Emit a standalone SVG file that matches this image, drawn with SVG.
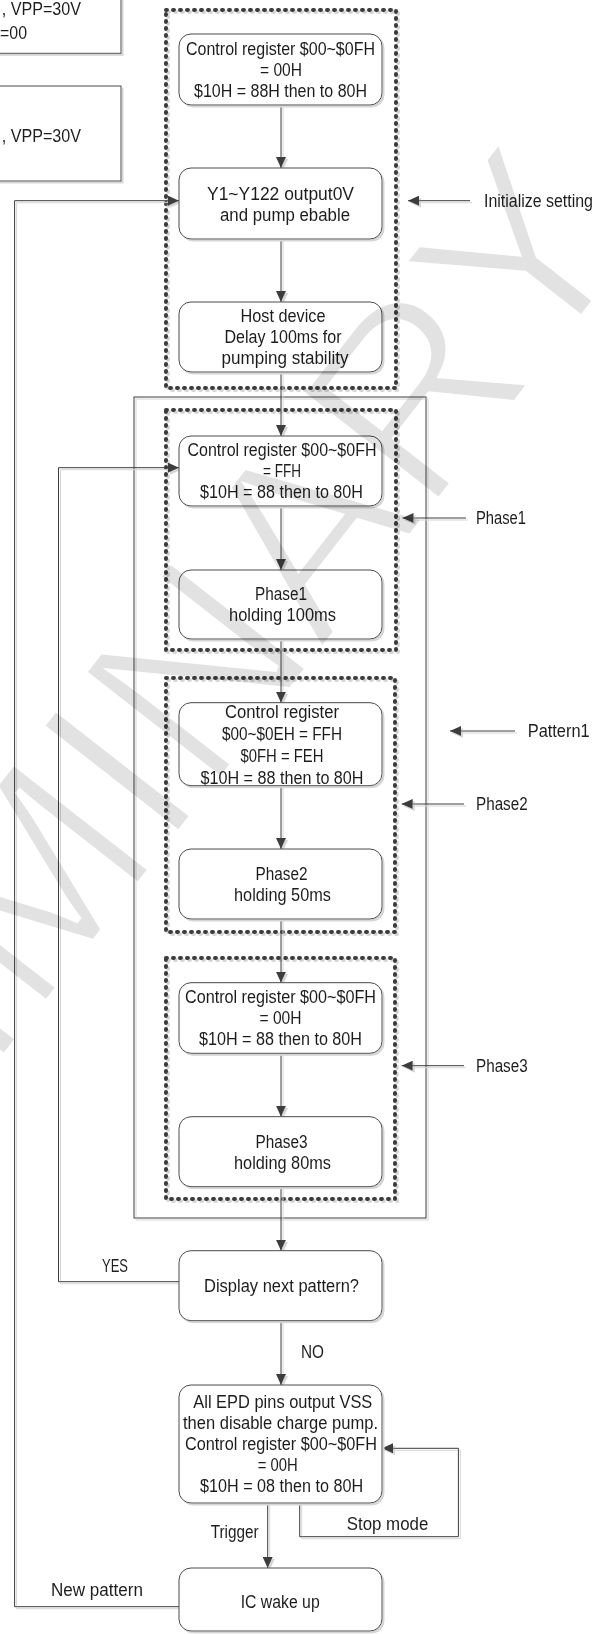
<svg xmlns="http://www.w3.org/2000/svg" width="604" height="1634" viewBox="0 0 604 1634">
<defs>
<style>
.n{fill:#fff;stroke:#4a4a4a;stroke-width:1}
.d{fill:none;stroke:#3a3a3a;stroke-width:4;stroke-dasharray:1 6;stroke-linecap:round}
.t{font-family:"Liberation Sans",Arial,sans-serif;font-size:17.5px;fill:#1e1e1e}
.m{text-anchor:middle}
.c{fill:none;stroke:#3c3c3c;stroke-width:1}
.wm{font-family:"Liberation Sans",Arial,sans-serif;font-size:255px;fill:#e2e2e2;stroke:#fff;stroke-width:7}
</style>
<filter id="sh" filterUnits="userSpaceOnUse" x="-20" y="-20" width="650" height="1680">
<feOffset in="SourceAlpha" dx="2" dy="2" result="o"/>
<feFlood flood-color="#d6d6d6"/>
<feComposite in2="o" operator="in" result="s"/>
<feMerge><feMergeNode in="s"/><feMergeNode in="SourceGraphic"/></feMerge>
</filter>
<marker id="ah" markerUnits="userSpaceOnUse" markerWidth="11" markerHeight="10" refX="11" refY="5" orient="auto">
<path d="M0,0 L11,5 L0,10 z" fill="#3c3c3c"/>
</marker>
</defs>
<rect width="604" height="1634" fill="#fff"/>

<g id="prev-boxes" filter="url(#sh)">
<rect class="n" x="-10" y="-10" width="131" height="63.3"/>
<rect class="n" x="-10" y="86" width="131" height="95"/>
</g>
<g id="prev-text">
<text class="t" x="1.7" y="14.5" font-size="18" textLength="79.3" lengthAdjust="spacingAndGlyphs">, VPP=30V</text>
<text class="t" x="0" y="38.5" font-size="18" textLength="27" lengthAdjust="spacingAndGlyphs">=00</text>
<text class="t" x="1.7" y="141.5" font-size="18" textLength="79.3" lengthAdjust="spacingAndGlyphs">, VPP=30V</text>
</g>

<g id="frames" filter="url(#sh)">
<rect id="pattern1" x="134" y="397" width="292" height="821" fill="none" stroke="#3c3c3c" stroke-width="1"/>
<rect id="init-frame" class="d" x="166" y="10" width="230" height="378"/>
<rect id="phase1-frame" class="d" x="166" y="410" width="230" height="240"/>
<rect id="phase2-frame" class="d" x="166" y="678" width="229" height="254"/>
<rect id="phase3-frame" class="d" x="166" y="958" width="229" height="241"/>
</g>

<g id="connectors" class="c" filter="url(#sh)">
<path d="M281,105 V168" marker-end="url(#ah)"/>
<path d="M281,239 V302" marker-end="url(#ah)"/>
<path d="M281,372 V436" marker-end="url(#ah)"/>
<path d="M281,506 V570" marker-end="url(#ah)"/>
<path d="M281,639 V702.7" marker-end="url(#ah)"/>
<path d="M281,785.7 V849" marker-end="url(#ah)"/>
<path d="M281,919 V982.7" marker-end="url(#ah)"/>
<path d="M281,1053.3 V1116.7" marker-end="url(#ah)"/>
<path d="M281,1186.7 V1250.7" marker-end="url(#ah)"/>
<path d="M281,1320.7 V1385" marker-end="url(#ah)"/>
<path d="M267.7,1503 V1568" marker-end="url(#ah)"/>
<path d="M299.7,1503 V1536.7 H458.4 V1448.3 H382" marker-end="url(#ah)"/>
<path d="M179,1281.7 H58.5 V467.7 H179" marker-end="url(#ah)"/>
<path d="M179,1606.7 H14.6 V200.7 H179" marker-end="url(#ah)"/>
<path d="M470,200.7 H408" marker-end="url(#ah)"/>
<path d="M466,518 H402.5" marker-end="url(#ah)"/>
<path d="M515,731 H450" marker-end="url(#ah)"/>
<path d="M464,804 H401.7" marker-end="url(#ah)"/>
<path d="M464,1065.7 H401.7" marker-end="url(#ah)"/>
</g>

<g id="node-init-reg" filter="url(#sh)">
<rect class="n" x="179" y="34" width="203" height="71" rx="12"/>
<text class="t m" x="280.5" y="54.8" textLength="189" lengthAdjust="spacingAndGlyphs">Control register $00~$0FH</text>
<text class="t m" x="281" y="75.8" textLength="42" lengthAdjust="spacingAndGlyphs">= 00H</text>
<text class="t m" x="280.5" y="96.8" textLength="173" lengthAdjust="spacingAndGlyphs">$10H = 88H then to 80H</text>
</g>
<g id="node-output" filter="url(#sh)">
<rect class="n" x="179" y="168" width="203" height="71" rx="12"/>
<text class="t m" x="280.5" y="199.5" textLength="147" lengthAdjust="spacingAndGlyphs">Y1~Y122 output0V</text>
<text class="t m" x="285" y="220.5" textLength="130" lengthAdjust="spacingAndGlyphs">and pump ebable</text>
</g>
<g id="node-host" filter="url(#sh)">
<rect class="n" x="179" y="302" width="203" height="70" rx="12"/>
<text class="t m" x="283" y="322.3" textLength="85" lengthAdjust="spacingAndGlyphs">Host device</text>
<text class="t m" x="283" y="343.3" textLength="117" lengthAdjust="spacingAndGlyphs">Delay 100ms for</text>
<text class="t m" x="285" y="364.3" textLength="127" lengthAdjust="spacingAndGlyphs">pumping stability</text>
</g>
<g id="node-p1-reg" filter="url(#sh)">
<rect class="n" x="179" y="436" width="203" height="70" rx="12"/>
<text class="t m" x="282" y="456.3" textLength="189" lengthAdjust="spacingAndGlyphs">Control register $00~$0FH</text>
<text class="t m" x="282" y="477.3" textLength="38" lengthAdjust="spacingAndGlyphs">= FFH</text>
<text class="t m" x="281.5" y="498.3" textLength="163" lengthAdjust="spacingAndGlyphs">$10H = 88 then to 80H</text>
</g>
<g id="node-p1-hold" filter="url(#sh)">
<rect class="n" x="179" y="570" width="203" height="69" rx="12"/>
<text class="t m" x="281" y="600.3" textLength="52" lengthAdjust="spacingAndGlyphs">Phase1</text>
<text class="t m" x="282.5" y="621.3" textLength="107" lengthAdjust="spacingAndGlyphs">holding 100ms</text>
</g>
<g id="node-p2-reg" filter="url(#sh)">
<rect class="n" x="179" y="702.7" width="203" height="83" rx="12"/>
<text class="t m" x="282" y="717.5" textLength="114" lengthAdjust="spacingAndGlyphs">Control register</text>
<text class="t m" x="282" y="739.5" textLength="120" lengthAdjust="spacingAndGlyphs">$00~$0EH = FFH</text>
<text class="t m" x="282" y="761.5" textLength="83" lengthAdjust="spacingAndGlyphs">$0FH = FEH</text>
<text class="t m" x="282" y="783.5" textLength="163" lengthAdjust="spacingAndGlyphs">$10H = 88 then to 80H</text>
</g>
<g id="node-p2-hold" filter="url(#sh)">
<rect class="n" x="179" y="849" width="203" height="70" rx="12"/>
<text class="t m" x="281.5" y="879.8" textLength="52" lengthAdjust="spacingAndGlyphs">Phase2</text>
<text class="t m" x="282.5" y="900.8" textLength="97" lengthAdjust="spacingAndGlyphs">holding 50ms</text>
</g>
<g id="node-p3-reg" filter="url(#sh)">
<rect class="n" x="179" y="982.7" width="203" height="70.6" rx="12"/>
<text class="t m" x="280.5" y="1003.3" textLength="191" lengthAdjust="spacingAndGlyphs">Control register $00~$0FH</text>
<text class="t m" x="280.5" y="1024.3" textLength="42" lengthAdjust="spacingAndGlyphs">= 00H</text>
<text class="t m" x="280.5" y="1045.3" textLength="163" lengthAdjust="spacingAndGlyphs">$10H = 88 then to 80H</text>
</g>
<g id="node-p3-hold" filter="url(#sh)">
<rect class="n" x="179" y="1116.7" width="203" height="70" rx="12"/>
<text class="t m" x="281.5" y="1147.5" textLength="52" lengthAdjust="spacingAndGlyphs">Phase3</text>
<text class="t m" x="282.5" y="1168.5" textLength="97" lengthAdjust="spacingAndGlyphs">holding 80ms</text>
</g>
<g id="node-display" filter="url(#sh)">
<rect class="n" x="179" y="1250.7" width="203" height="70" rx="12"/>
<text class="t m" x="281.5" y="1292" textLength="155" lengthAdjust="spacingAndGlyphs">Display next pattern?</text>
</g>
<g id="node-stop" filter="url(#sh)">
<rect class="n" x="179" y="1385" width="203" height="118" rx="12"/>
<text class="t m" x="282.8" y="1408.3" textLength="179" lengthAdjust="spacingAndGlyphs">All EPD pins output VSS</text>
<text class="t m" x="280.5" y="1429.3" textLength="195" lengthAdjust="spacingAndGlyphs">then disable charge pump.</text>
<text class="t m" x="281" y="1450.3" textLength="192" lengthAdjust="spacingAndGlyphs">Control register $00~$0FH</text>
<text class="t m" x="277.7" y="1471.3" textLength="40" lengthAdjust="spacingAndGlyphs">= 00H</text>
<text class="t m" x="281.6" y="1492.3" textLength="163" lengthAdjust="spacingAndGlyphs">$10H = 08 then to 80H</text>
</g>
<g id="node-wake" filter="url(#sh)">
<rect class="n" x="179" y="1568" width="203" height="63" rx="12"/>
<text class="t m" x="280.2" y="1608.3" textLength="79" lengthAdjust="spacingAndGlyphs">IC wake up</text>
</g>

<g id="labels">
<text class="t" x="484" y="206.8" textLength="109" lengthAdjust="spacingAndGlyphs">Initialize setting</text>
<text class="t" x="476" y="524.3" textLength="50" lengthAdjust="spacingAndGlyphs">Phase1</text>
<text class="t" x="527.7" y="737.3" textLength="62" lengthAdjust="spacingAndGlyphs">Pattern1</text>
<text class="t" x="476" y="810.3" textLength="51.7" lengthAdjust="spacingAndGlyphs">Phase2</text>
<text class="t" x="476" y="1072" textLength="51.7" lengthAdjust="spacingAndGlyphs">Phase3</text>
<text class="t" x="102" y="1272" textLength="26" lengthAdjust="spacingAndGlyphs">YES</text>
<text class="t" x="301" y="1358" textLength="23" lengthAdjust="spacingAndGlyphs">NO</text>
<text class="t" x="210.7" y="1538" textLength="48" lengthAdjust="spacingAndGlyphs">Trigger</text>
<text class="t" x="346.7" y="1530.3" textLength="81.6" lengthAdjust="spacingAndGlyphs">Stop mode</text>
<text class="t" x="51" y="1596.3" textLength="92" lengthAdjust="spacingAndGlyphs">New pattern</text>
</g>

<g id="watermark" style="mix-blend-mode:multiply">
<text class="wm" transform="translate(-420,1601) rotate(-52)">PRELIMINARY</text>
</g>
</svg>
